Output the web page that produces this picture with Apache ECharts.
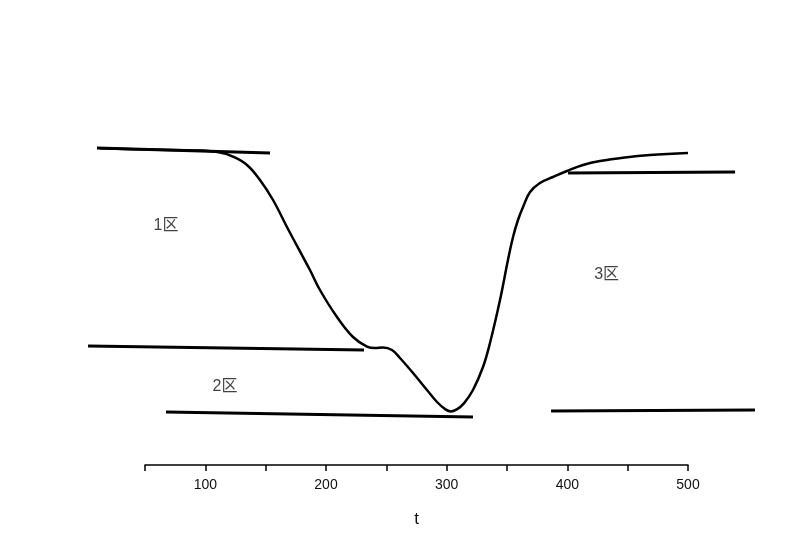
<!DOCTYPE html>
<html>
<head>
<meta charset="utf-8">
<script src="https://cdn.jsdelivr.net/npm/echarts@6/dist/echarts.min.js"></script>
<style>
  html, body { margin: 0; padding: 0; background: #fff; }
  #chart { width: 800px; height: 558px; }
</style>
</head>
<body>
<div id="chart"></div>
<script>
// 主曲线 (t, 值)
const curveT = [12.7, 54.1, 95.6, 112.2, 122.9, 134.5, 145.3, 156.1, 168.5, 186.7, 195.0, 209.1, 222.4, 234.0, 240.6, 247.2, 254.7, 261.3, 272.1, 283.7, 292.0, 299.0, 303.4, 308.4, 314.3, 321.8, 330.1, 335.9, 344.2, 350.8, 355.0, 359.1, 363.3, 369.1, 377.3, 388.1, 399.7, 413.0, 427.1, 447.8, 468.5, 500];
const curveV = [79.2, 78.85, 78.6, 78.1, 77.1, 75, 71.25, 66.25, 59, 48.75, 43.75, 37, 32, 29.6, 29.25, 29.4, 28.75, 26.75, 23, 18.75, 15.75, 13.9, 13.4, 13.9, 15.4, 18.75, 24.5, 30.5, 41.25, 51.25, 57, 61.25, 64.5, 68.25, 70.5, 72, 73.5, 75, 76, 76.9, 77.5, 78];

// 切线 (起点/终点)
const lineTop1 = [[10.2, 79.25], [153.6, 78]];
const lineMid1 = [[2.8, 29.75], [231.5, 28.75]];
const lineLow1 = [[67.4, 13.25], [321.8, 12]];
const lineTop3 = [[400.6, 73], [539.0, 73.25]];
const lineLow3 = [[386.5, 13.5], [555.5, 13.75]];

// 区域标注
const zoneNames = ['1区', '2区', '3区'];
const zonePos = [[67.4, 59.75], [116.3, 19.5], [432.6, 47.5]];

// 刻度轴范围
const tMin = 50, tMax = 500, tStep = 50;

// 可见坐标轴所在区域 (px)
const axisLeft = 145, axisRight = 112, plotTop = 65, plotBottom = 93;
const pxPerUnit = (800 - axisLeft - axisRight) / (tMax - tMin);

let myChart = echarts.init(document.getElementById('chart'));

function straight(data) {
  return {
    type: 'line',
    xAxisIndex: 1,
    yAxisIndex: 1,
    data: data,
    showSymbol: false,
    clip: false,
    silent: true,
    lineStyle: { color: '#000', width: 3 },
  };
}

let option = {
  animation: false,
  backgroundColor: '#fff',
  grid: [
    { left: axisLeft, right: axisRight, top: plotTop, bottom: plotBottom },
    // 数据区域覆盖整张图, 比例与可见坐标轴一致
    { left: 0, right: 0, top: plotTop, bottom: plotBottom },
  ],
  xAxis: [
    {
      gridIndex: 0,
      type: 'value',
      min: tMin,
      max: tMax,
      interval: tStep,
      name: 't',
      nameLocation: 'middle',
      nameGap: 46,
      nameTextStyle: { color: '#111', fontSize: 17, fontFamily: 'Liberation Sans' },
      axisLine: { onZero: false, lineStyle: { color: '#000', width: 1.5 } },
      axisTick: { length: 6, lineStyle: { color: '#000', width: 1.5 } },
      axisLabel: {
        color: '#111',
        fontSize: 14,
        fontFamily: 'Liberation Sans',
        margin: 13,
        formatter: function (v) { return v % 100 === 0 ? String(v) : ''; },
      },
      splitLine: { show: false },
    },
    {
      gridIndex: 1,
      type: 'value',
      min: tMin - axisLeft / pxPerUnit,
      max: tMax + axisRight / pxPerUnit,
      show: false,
    },
  ],
  yAxis: [
    { gridIndex: 0, type: 'value', min: 0, max: 100, show: false },
    { gridIndex: 1, type: 'value', min: 0, max: 100, show: false },
  ],
  series: [
    {
      type: 'line',
      xAxisIndex: 1,
      yAxisIndex: 1,
      data: curveT.map((t, i) => [t, curveV[i]]),
      smooth: 0.4,
      showSymbol: false,
      clip: false,
      lineStyle: { color: '#000', width: 2.5 },
    },
    straight(lineTop1),
    straight(lineMid1),
    straight(lineLow1),
    straight(lineTop3),
    straight(lineLow3),
    {
      type: 'scatter',
      xAxisIndex: 1,
      yAxisIndex: 1,
      symbolSize: 0,
      data: zoneNames.map((n, i) => ({ value: zonePos[i], name: n })),
      label: {
        show: true,
        position: 'inside',
        formatter: '{b}',
        color: '#111',
        fontSize: 16,
        fontFamily: 'Liberation Sans, Noto Sans CJK SC',
      },
    },
  ],
};
myChart.setOption(option);
</script>
</body>
</html>
